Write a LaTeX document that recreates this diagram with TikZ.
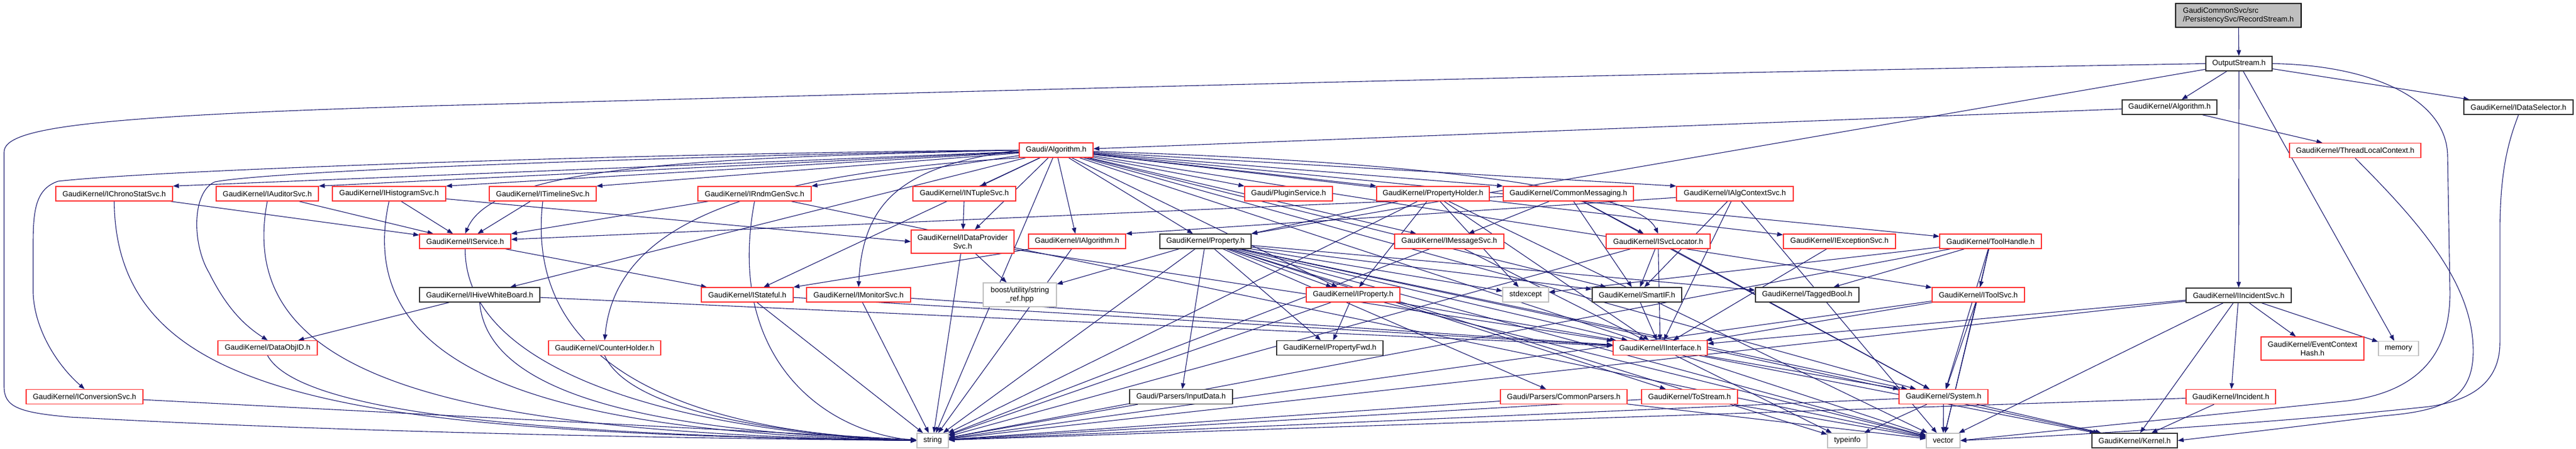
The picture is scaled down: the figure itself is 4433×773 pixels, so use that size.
\documentclass[tikz,border=0pt]{standalone}
\usepackage{fontspec}
\setmainfont{Liberation Sans}
\usetikzlibrary{arrows.meta}
\definecolor{edgec}{RGB}{25,25,112}
\definecolor{redc}{RGB}{255,48,48}
\definecolor{grayc}{RGB}{191,191,191}
\definecolor{blackc}{RGB}{50,50,50}
\pgfdeclarelayer{bg}
\pgfsetlayers{bg,main}
\tikzset{
 nb/.style={draw, fill=white, line width=1.4pt, inner sep=0pt, minimum height=25pt, font=\fontsize{13}{15}\selectfont, text=black},
 rbox/.style={nb, draw=redc},
 kbox/.style={nb, draw=blackc},
 gbox/.style={nb, draw=grayc},
 dep/.style={draw=edgec, line width=1.1pt, -{Triangle[length=10pt,width=7.5pt]}},
}
\begin{document}
\begin{tikzpicture}[x=1pt,y=-1pt]
\useasboundingbox (0,0) rectangle (4433,773);
% nodes
\node[nb, fill=grayc, draw=black, minimum width=216pt, minimum height=41pt, align=left] (root) at (3852,26.5) {GaudiCommonSvc/src\\/PersistencySvc/RecordStream.h};
\node[kbox, minimum width=114pt] (OS) at (3853,109.5) {OutputStream.h};
\node[kbox, minimum width=163pt] (GKA) at (3733.5,184.5) {GaudiKernel/Algorithm.h};
\node[kbox, minimum width=188pt] (IDS) at (4334,184.5) {GaudiKernel/IDataSelector.h};
\node[rbox, minimum width=226pt] (TLC) at (4053,259) {GaudiKernel/ThreadLocalContext.h};
\node[rbox, minimum width=127pt] (GA) at (1817.5,258.5) {Gaudi/Algorithm.h};
\node[rbox, minimum width=201pt] (IChrono) at (196.5,333.5) {GaudiKernel/IChronoStatSvc.h};
\node[rbox, minimum width=176pt] (IAud) at (460,333.5) {GaudiKernel/IAuditorSvc.h};
\node[rbox, minimum width=195pt] (IHist) at (669.5,333.5) {GaudiKernel/IHistogramSvc.h};
\node[rbox, minimum width=184pt] (ITime) at (934,333.5) {GaudiKernel/ITimelineSvc.h};
\node[rbox, minimum width=195pt] (IRndm) at (1298.5,333.5) {GaudiKernel/IRndmGenSvc.h};
\node[rbox, minimum width=177pt] (INTuple) at (1659.5,333.5) {GaudiKernel/INTupleSvc.h};
\node[rbox, minimum width=151pt] (Plugin) at (2217.5,333.5) {Gaudi/PluginService.h};
\node[rbox, minimum width=194pt] (PropHolder) at (2466,333.5) {GaudiKernel/PropertyHolder.h};
\node[rbox, minimum width=224pt] (CommonMsg) at (2699,333.5) {GaudiKernel/CommonMessaging.h};
\node[rbox, minimum width=201pt] (IAlgCtx) at (2985.5,333.5) {GaudiKernel/IAlgContextSvc.h};
\node[rbox, minimum width=157pt] (IService) at (800.5,415.5) {GaudiKernel/IService.h};
\node[rbox, minimum width=177pt, minimum height=40pt, align=center] (IDataProv) at (1656.5,416) {GaudiKernel/IDataProvider\\Svc.h};
\node[rbox, minimum width=167pt] (IAlgorithm) at (1853.5,415.5) {GaudiKernel/IAlgorithm.h};
\node[kbox, minimum width=157pt] (Prop) at (2074.5,415.5) {GaudiKernel/Property.h};
\node[rbox, minimum width=188pt] (IMsg) at (2494,415.5) {GaudiKernel/IMessageSvc.h};
\node[rbox, minimum width=179pt] (ISvcLoc) at (2853.5,415.5) {GaudiKernel/ISvcLocator.h};
\node[rbox, minimum width=193pt] (IExc) at (3165.5,415.5) {GaudiKernel/IExceptionSvc.h};
\node[rbox, minimum width=175pt] (ToolHandle) at (3425.5,415.5) {GaudiKernel/ToolHandle.h};
\node[kbox, minimum width=207pt] (IHive) at (825.5,507.5) {GaudiKernel/IHiveWhiteBoard.h};
\node[rbox, minimum width=158pt] (IStateful) at (1286,507.5) {GaudiKernel/IStateful.h};
\node[rbox, minimum width=179pt] (IMonitor) at (1477.5,507.5) {GaudiKernel/IMonitorSvc.h};
\node[gbox, minimum width=126pt, minimum height=41pt, align=center] (Boost) at (1755,507.5) {boost/utility/string\\\_ref.hpp};
\node[rbox, minimum width=161pt] (IProperty) at (2328.5,507.5) {GaudiKernel/IProperty.h};
\node[gbox, minimum width=79pt] (Stdexcept) at (2625.5,507.5) {stdexcept};
\node[kbox, minimum width=154pt] (SmartIF) at (2817,507.5) {GaudiKernel/SmartIF.h};
\node[kbox, minimum width=178pt] (TaggedBool) at (3110,507.5) {GaudiKernel/TaggedBool.h};
\node[rbox, minimum width=159pt] (IToolSvc) at (3404.5,507.5) {GaudiKernel/IToolSvc.h};
\node[kbox, minimum width=181pt] (IIS) at (3852.5,508.5) {GaudiKernel/IIncidentSvc.h};
\node[rbox, minimum width=171pt] (DataObjID) at (460.5,599) {GaudiKernel/DataObjID.h};
\node[rbox, minimum width=193pt] (CounterHolder) at (1040.5,599) {GaudiKernel/CounterHolder.h};
\node[kbox, minimum width=183pt] (PropFwd) at (2288.5,599) {GaudiKernel/PropertyFwd.h};
\node[rbox, minimum width=162pt] (IInterface) at (2857,599) {GaudiKernel/IInterface.h};
\node[rbox, minimum width=177pt, minimum height=40pt, align=center] (ECH) at (3979.5,600) {GaudiKernel/EventContext\\Hash.h};
\node[gbox, minimum width=69pt] (Memory) at (4127.5,600) {memory};
\node[rbox, minimum width=201pt] (IConv) at (145.5,683) {GaudiKernel/IConversionSvc.h};
\node[kbox, minimum width=177pt] (InputData) at (2032.5,683) {Gaudi/Parsers/InputData.h};
\node[rbox, minimum width=218pt] (CommonParsers) at (2691,683) {Gaudi/Parsers/CommonParsers.h};
\node[rbox, minimum width=165pt] (ToStream) at (2907.5,683) {GaudiKernel/ToStream.h};
\node[rbox, minimum width=153pt] (System) at (3344.5,683) {GaudiKernel/System.h};
\node[rbox, minimum width=154pt] (Incident) at (3839,683) {GaudiKernel/Incident.h};
\node[gbox, minimum width=54pt] (String) at (1605,758.5) {string};
\node[gbox, minimum width=68pt] (Typeinfo) at (3179,758.5) {typeinfo};
\node[gbox, minimum width=58pt] (Vector) at (3344,758.5) {vector};
\node[kbox, minimum width=147pt] (Kernel) at (3673.5,758.5) {GaudiKernel/Kernel.h};
% edges
\begin{pgfonlayer}{bg}
\fill[white] (0,0) rectangle (4433,773);
\draw[dep] (root) -- (OS);
\draw[dep] (OS) -- (GKA);
\draw[dep] (OS) -- (IDS);
\draw[dep] (OS) -- (IIS);
\draw[dep] (OS) -- (Memory);
\draw[dep] (OS) -- (Prop.north east);
\draw[dep] (OS.west) .. controls (2600,130) and (1400,165) .. (750,182) .. controls (150,200) and (7,220) .. (7,262) -- (7,665) .. controls (7,700) and (30,710) .. (120,718) .. controls (600,745) and (1200,755) .. (String.west);
\draw[dep] (OS.east) .. controls (4080,112) and (4212,170) .. (4212,270) -- (4216,500) .. controls (4218,620) and (4150,676) .. (4040,690) .. controls (3750,720) and (3500,745) .. (Vector.east);
\draw[dep] (GKA) -- (GA);
\draw[dep] (GKA) -- (TLC);
\draw[dep] (TLC.south) .. controls (4150,370) and (4254,480) .. (4256,600) .. controls (4258,690) and (4200,708) .. (4100,716) .. controls (3950,735) and (3820,750) .. (Kernel.east);
\draw[dep] (IDS.south) .. controls (4318,240) and (4302,290) .. (4302,400) -- (4302,590) .. controls (4302,660) and (4250,690) .. (4180,700) .. controls (3900,730) and (3550,750) .. (Vector.east);
% Gaudi/Algorithm
\draw[dep] (GA) -- (IChrono.north east);
\draw[dep] (GA) -- (IAud.north east);
\draw[dep] (GA) -- (IHist.north east);
\draw[dep] (GA) -- (ITime.north east);
\draw[dep] (GA) -- (IRndm.north east);
\draw[dep] (GA) -- (INTuple);
\draw[dep] (GA) -- (Plugin.north west);
\draw[dep] (GA) -- (PropHolder.north west);
\draw[dep] (GA) -- (CommonMsg.north west);
\draw[dep] (GA) -- (IAlgCtx.north west);
\draw[dep] (GA) -- (IDataProv);
\draw[dep] (GA) -- (IAlgorithm);
\draw[dep] (GA) -- (Prop);
\draw[dep] (GA) -- (IMsg);
\draw[dep] (GA) .. controls (2500,280) and (2820,330) .. (ISvcLoc.north);
\draw[dep] (GA) -- (IExc);
\draw[dep] (GA) -- (ToolHandle);
\draw[dep] (GA) -- (IProperty);
\draw[dep] (GA) -- (SmartIF);
\draw[dep] (GA) -- (IToolSvc);
\draw[dep] (GA) -- (IStateful);
\draw[dep] (GA) -- (IHive);
\draw[dep] (GA) -- (System);
\draw[dep] (GA) -- (Vector);
\draw[dep] (GA) -- (String);
\draw[dep] (GA.west) .. controls (1200,272) and (850,285) .. (IService.north);
\draw[dep] (GA.west) .. controls (1200,262) and (300,290) .. (100,312) .. controls (62,325) and (57,360) .. (57,420) -- (57,505) .. controls (60,570) and (100,630) .. (IConv.north);
\draw[dep] (GA.west) .. controls (1300,266) and (500,290) .. (370,313) .. controls (330,330) and (330,420) .. (360,470) .. controls (390,530) and (420,560) .. (DataObjID.north);
\draw[dep] (GA.south west) .. controls (1300,300) and (1060,380) .. (CounterHolder.north);
\draw[dep] (GA.west) .. controls (1560,285) and (1485,340) .. (IMonitor.north);
% row 333
\draw[dep] (IChrono) -- (IService);
\draw[dep] (IChrono.south) .. controls (200,690) and (600,745) .. (String.west);
\draw[dep] (IAud) -- (IService);
\draw[dep] (IAud.south) .. controls (400,660) and (800,745) .. (String.west);
\draw[dep] (IHist) -- (IService);
\draw[dep] (IHist.south) .. controls (600,660) and (1000,745) .. (String.west);
\draw[dep] (IHist) -- (IDataProv.west);
\draw[dep] (ITime) -- (IService);
\draw[dep] (ITime.south) .. controls (900,640) and (1200,745) .. (String.west);
\draw[dep] (IRndm) -- (IService);
\draw[dep] (IRndm.south) .. controls (1250,600) and (1400,740) .. (String.west);
\draw[dep] (IRndm) -- (Vector);
\draw[dep] (INTuple) -- (IDataProv);
\draw[dep] (PropHolder) -- (IProperty);
\draw[dep] (PropHolder) -- (Prop.north east);
\draw[dep] (PropHolder) -- (IInterface);
\draw[dep] (PropHolder) -- (Stdexcept);
\draw[dep] (PropHolder) -- (String);
\draw[dep] (PropHolder) -- (Vector);
\draw[dep] (CommonMsg) -- (IMsg);
\draw[dep] (CommonMsg) -- (ISvcLoc);
\draw[dep] (CommonMsg) -- (SmartIF);
\draw[dep] (CommonMsg) -- (System);
\draw[dep] (CommonMsg) -- (IService);
\draw[dep] (IAlgCtx) -- (IInterface);
\draw[dep] (IAlgCtx) -- (SmartIF);
\draw[dep] (IAlgCtx) -- (Vector);
\draw[dep] (IAlgCtx) -- (IAlgorithm.north east);
% row 415
\draw[dep] (IService) -- (IStateful);
\draw[dep] (IService.south) .. controls (800,650) and (1200,745) .. (String.west);
\draw[dep] (IDataProv) -- (String);
\draw[dep] (IDataProv) -- (Boost);
\draw[dep] (IDataProv) -- (IInterface);
\draw[dep] (IAlgorithm) -- (IStateful.north east);
\draw[dep] (IAlgorithm) -- (String);
\draw[dep] (Prop) -- (IProperty);
\draw[dep] (Prop) -- (PropFwd);
\draw[dep] (Prop) -- (InputData);
\draw[dep] (Prop) -- (CommonParsers);
\draw[dep] (Prop) -- (ToStream);
\draw[dep] (Prop) -- (String);
\draw[dep] (Prop) -- (Boost);
\draw[dep] (Prop) -- (Stdexcept);
\draw[dep] (Prop) -- (SmartIF);
\draw[dep] (Prop) -- (TaggedBool);
\draw[dep] (Prop) -- (IInterface);
\draw[dep] (Prop) -- (System);
\draw[dep] (Prop) -- (Typeinfo);
\draw[dep] (Prop) -- (Vector);
\draw[dep] (Prop) -- (Kernel);
\draw[dep] (IMsg) -- (IInterface);
\draw[dep] (IMsg) -- (String);
\draw[dep] (ISvcLoc) -- (SmartIF);
\draw[dep] (ISvcLoc) -- (IInterface);
\draw[dep] (ISvcLoc) -- (String);
\draw[dep] (ISvcLoc) -- (System);
\draw[dep] (IExc) -- (IInterface);
\draw[dep] (ToolHandle) -- (IToolSvc);
\draw[dep] (ToolHandle) -- (TaggedBool);
\draw[dep] (ToolHandle) -- (System);
\draw[dep] (ToolHandle) -- (Vector);
\draw[dep] (ToolHandle) -- (String);
\draw[dep] (ToolHandle) -- (Stdexcept);
% row 507
\draw[dep] (IHive) -- (DataObjID);
\draw[dep] (IHive.south) .. controls (840,700) and (1200,745) .. (String.west);
\draw[dep] (IHive) -- (IInterface);
\draw[dep] (IStateful) -- (IInterface);
\draw[dep] (IStateful) -- (String);
\draw[dep] (IMonitor) -- (IInterface);
\draw[dep] (IMonitor) -- (String);
\draw[dep] (IProperty) -- (PropFwd);
\draw[dep] (IProperty) -- (IInterface);
\draw[dep] (IProperty) -- (String);
\draw[dep] (IProperty) -- (Vector);
\draw[dep] (SmartIF) -- (IInterface);
\draw[dep] (IToolSvc) -- (System);
\draw[dep] (IToolSvc) -- (IInterface);
\draw[dep] (IToolSvc) -- (String);
\draw[dep] (IToolSvc) -- (Vector);
\draw[dep] (IIS) -- (IInterface);
\draw[dep] (IIS) -- (Incident);
\draw[dep] (IIS) -- (ECH);
\draw[dep] (IIS) -- (Memory);
\draw[dep] (IIS) -- (Vector);
\draw[dep] (IIS) -- (String);
\draw[dep] (IIS) -- (Kernel);
% row 599
\draw[dep] (DataObjID.south) .. controls (520,720) and (1000,750) .. (String.west);
\draw[dep] (CounterHolder.south) .. controls (1080,700) and (1300,745) .. (String.west);
\draw[dep] (IInterface) -- (System);
\draw[dep] (IInterface) -- (Kernel);
\draw[dep] (IInterface) -- (Typeinfo);
% row 683
\draw[dep] (IConv) -- (String);
\draw[dep] (InputData) -- (String);
\draw[dep] (CommonParsers) -- (String);
\draw[dep] (CommonParsers) -- (Vector);
\draw[dep] (ToStream) -- (String);
\draw[dep] (ToStream) -- (Vector);
\draw[dep] (System) -- (Typeinfo);
\draw[dep] (System) -- (Vector);
\draw[dep] (System) -- (Kernel);
\draw[dep] (System) -- (String);
\draw[dep] (Incident) -- (String);
\draw[dep] (Incident) -- (Kernel);
\end{pgfonlayer}
\end{tikzpicture}
\end{document}
